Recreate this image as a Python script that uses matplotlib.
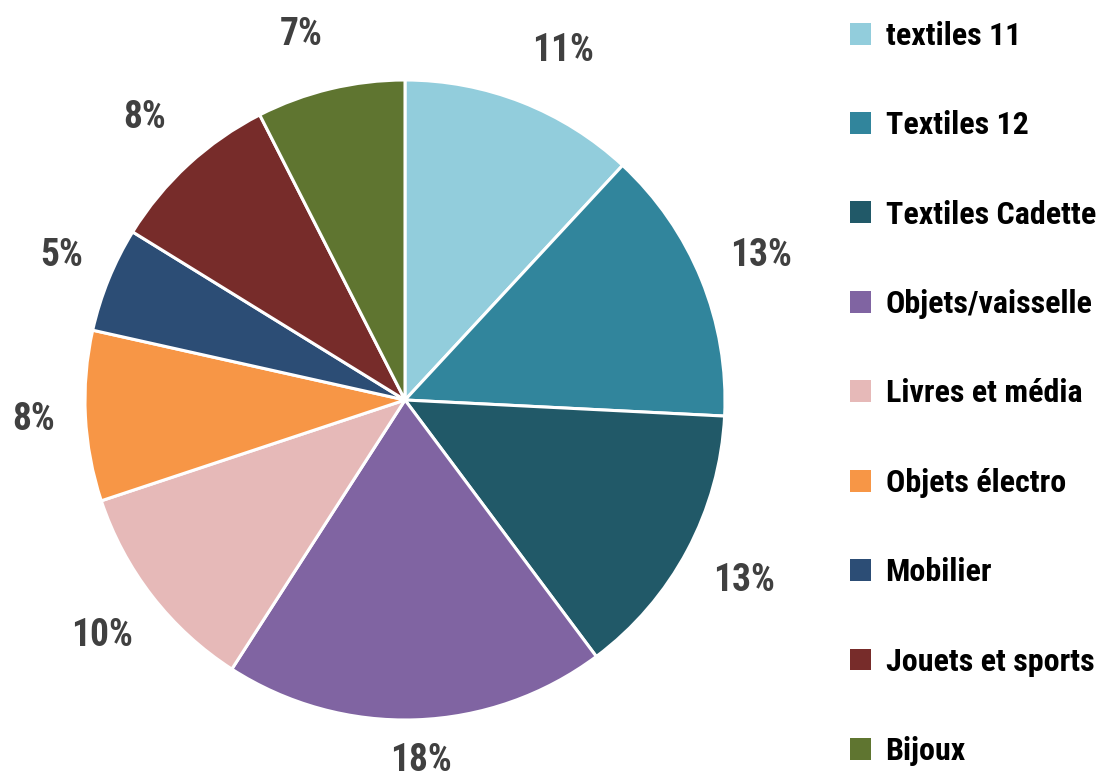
import matplotlib
matplotlib.use("Agg")
import matplotlib.pyplot as plt
from matplotlib import font_manager

# data
categories = ["textiles 11", "Textiles 12", "Textiles Cadette", "Objets/vaisselle",
              "Livres et média", "Objets électro", "Mobilier", "Jouets et sports", "Bijoux"]
shares = [11.9, 13.9, 14.0, 19.3, 10.8, 8.6, 5.3, 8.7, 7.5]
pct_labels = ["11%", "13%", "13%", "18%", "10%", "8%", "5%", "8%", "7%"]
colors = ["#92CDDC", "#31859C", "#215968", "#8064A2", "#E6B9B8",
          "#F79646", "#2C4D75", "#772C2A", "#5F7530"]

# look for a narrow font, the reference uses a condensed display face
fonts = font_manager.fontManager.ttflist
names = {f.name for f in fonts}
family, stretch = "DejaVu Sans", "normal"
for cand in ["Roboto Condensed", "Liberation Sans Narrow", "Open Sans Condensed"]:
    if cand in names:
        family = cand
        break
else:
    if any(f.name == "DejaVu Sans" and f.stretch == "condensed" for f in fonts):
        stretch = "condensed"
plt.rcParams["font.family"] = [family, "DejaVu Sans"]
plt.rcParams["font.stretch"] = stretch

W, H = 1100, 781
fig = plt.figure(figsize=(W / 100, H / 100), dpi=100)

# pie centre at (405, 400) px, radius 320 px
cx, cy, R = 405, 400, 320
ax = fig.add_axes([(cx - R) / W, (H - cy - R) / H, 2 * R / W, 2 * R / H])

wedges, texts = ax.pie(
    shares, labels=pct_labels, colors=colors, startangle=90, counterclock=False,
    labeldistance=1.2, wedgeprops=dict(edgecolor="white", linewidth=2.2),
    textprops=dict(fontsize=27, fontweight="bold", color="#404040"))

# small nudges (in pixels, right / up) so labels sit where the reference puts them
nudges = {0: (18, -8), 3: (3, 23), 5: (12, 0), 6: (12, 0), 8: (-14, -8)}
for i, t in enumerate(texts):
    t.set_horizontalalignment("center")
    t.set_verticalalignment("center")
    if i in nudges:
        x, y = t.get_position()
        t.set_position((x + nudges[i][0] / R, y + nudges[i][1] / R))
ax.set_xlim(-1, 1)
ax.set_ylim(-1, 1)
ax.set_aspect("equal")
ax.axis("off")

leg = fig.legend(wedges, categories, loc="upper left", bbox_to_anchor=(829 / W, 1.0),
                 frameon=False, prop=dict(weight="bold", size=23, stretch=stretch),
                 handlelength=0.68, handleheight=0.68, handletextpad=0.44,
                 labelspacing=1.86, borderaxespad=0.25)
for h in leg.legend_handles:
    h.set_edgecolor("none")

fig.savefig("out.png", dpi=100)
